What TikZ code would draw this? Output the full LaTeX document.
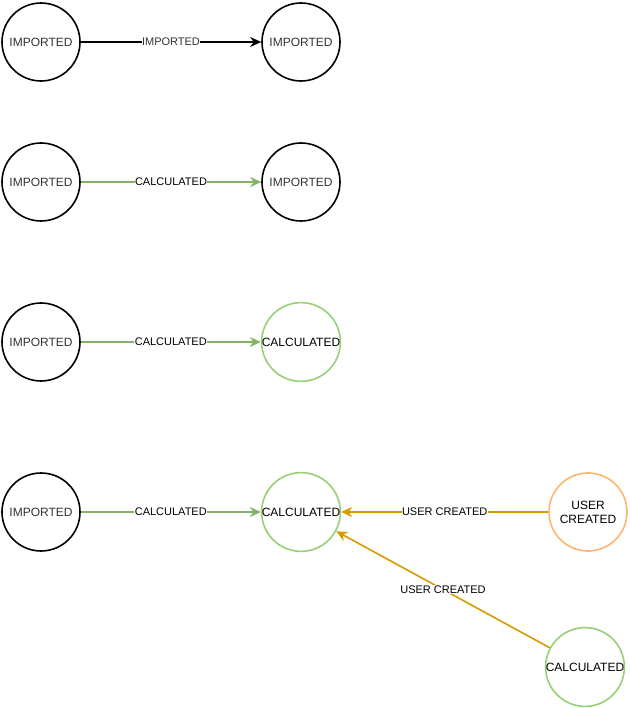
\documentclass[tikz,border=0pt]{standalone}
\usepackage{fontspec}
\setmainfont{Liberation Sans}
\usetikzlibrary{arrows.meta}
\definecolor{grn}{HTML}{82B366}
\definecolor{lgrn}{HTML}{97D077}
\definecolor{org}{HTML}{FFB570}
\definecolor{gold}{HTML}{D79B00}
\definecolor{txtg}{HTML}{333333}
\begin{document}
\begin{tikzpicture}[x=1pt,y=-1pt,
  circ/.style={circle,draw,line width=1.6pt,minimum size=78pt,inner sep=0pt,font=\fontsize{12pt}{14pt}\selectfont,align=center},
  impc/.style={circ,draw=black,text=txtg},
  calc/.style={circ,draw=lgrn,text=black},
  usr/.style={circ,draw=org,text=black},
  conn/.style={line width=1.6pt,-{Stealth[length=11pt,width=10pt,inset=3.5pt]}},
  lbl/.style={fill=white,inner sep=0.5pt,font=\fontsize{11pt}{13pt}\selectfont}
]
\useasboundingbox (0,0) rectangle (629,708);
\node[impc] (a1) at (41,42) {IMPORTED};
\node[impc] (b1) at (301,42) {IMPORTED};
\node[impc] (a2) at (41,182) {IMPORTED};
\node[impc] (b2) at (301,182) {IMPORTED};
\node[impc] (a3) at (41,342) {IMPORTED};
\node[calc] (b3) at (301,342) {CALCULATED};
\node[impc] (a4) at (41,512) {IMPORTED};
\node[calc] (b4) at (301,512) {CALCULATED};
\node[usr] (c4) at (588,512) {USER\\CREATED};
\node[calc] (d5) at (585,667) {CALCULATED};
\draw[conn,black] (a1) -- node[lbl,text=txtg]{IMPORTED} (b1);
\draw[conn,grn] (a2) -- node[lbl,text=black]{CALCULATED} (b2);
\draw[conn,grn] (a3) -- node[lbl,text=black]{CALCULATED} (b3);
\draw[conn,grn] (a4) -- node[lbl,text=black]{CALCULATED} (b4);
\draw[conn,gold] (c4) -- node[lbl,text=black]{USER CREATED} (b4);
\draw[conn,gold] (d5) -- node[lbl,text=black]{USER CREATED} (b4);
\end{tikzpicture}
\end{document}
